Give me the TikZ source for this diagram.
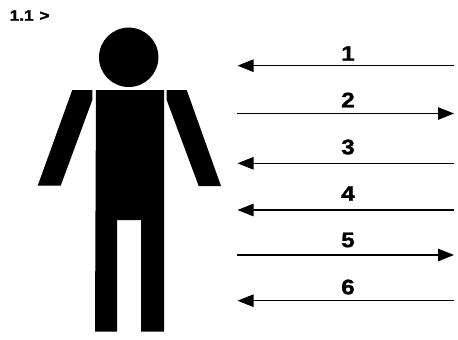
\documentclass[tikz,border=0pt]{standalone}
\usepackage{fontspec}
\setmainfont{Liberation Sans}
\newfontfamily\heavyfont[FakeBold=1.5, FakeStretch=1.15]{Liberation Sans Bold}
\usetikzlibrary{arrows.meta}

\begin{document}
\begin{tikzpicture}[>={Triangle[length=16pt, width=12.5pt]}, x=1pt, y=-1pt,
    figure/.style={fill=black, draw=none},
    number/.style={font=\heavyfont\fontsize{21}{21}\selectfont, inner sep=0pt},
    signal/.style={->, line width=1.1pt}]
        \useasboundingbox (0,0) rectangle (458,340);
        
        % Title
        \node[font=\heavyfont\fontsize{15}{15}\selectfont, inner sep=0pt, anchor=west] (title) at (9.5, 15.5) {1.1\hspace{1pt} >};
        
        % Person
        \fill[figure] (128.7, 57.3) circle (29.7pt);
        \fill[figure] (96, 90) -- (164, 90) -- (164, 331.5) -- (141, 331.5) -- (141, 220)
            -- (117, 220) -- (117, 331.5) -- (95, 331.5) -- cycle;
        \fill[figure] (72.3, 90) -- (92.3, 90) -- (92.3, 100) -- (60.7, 185.7) -- (37.7, 185.7) -- cycle;
        \fill[figure] (166.7, 90) -- (186.7, 90) -- (221, 186) -- (198.7, 186) -- (166.7, 100) -- cycle;
        
        % Line ends
        \coordinate (a1) at (237.5, 65.7);
        \coordinate (b1) at (454, 65.7);
        \coordinate (a2) at (237, 113.5);
        \coordinate (b2) at (454, 113.5);
        \coordinate (a3) at (237.5, 163.3);
        \coordinate (b3) at (454, 163.3);
        \coordinate (a4) at (237.5, 210);
        \coordinate (b4) at (454, 210);
        \coordinate (a5) at (237, 255);
        \coordinate (b5) at (454, 255);
        \coordinate (a6) at (237.5, 300.7);
        \coordinate (b6) at (454, 300.7);
        
        % Numbers
        \node[number] (n1) at (348, 53.5) {1};
        \node[number] (n2) at (348, 100) {2};
        \node[number] (n3) at (348, 147) {3};
        \node[number] (n4) at (348, 193.5) {4};
        \node[number] (n5) at (348, 240) {5};
        \node[number] (n6) at (348, 287) {6};
        
        % Arrows
        \draw[signal] (b1) -- (a1);
        \draw[signal] (a2) -- (b2);
        \draw[signal] (b3) -- (a3);
        \draw[signal] (b4) -- (a4);
        \draw[signal] (a5) -- (b5);
        \draw[signal] (b6) -- (a6);
    \end{tikzpicture}
\end{document}
